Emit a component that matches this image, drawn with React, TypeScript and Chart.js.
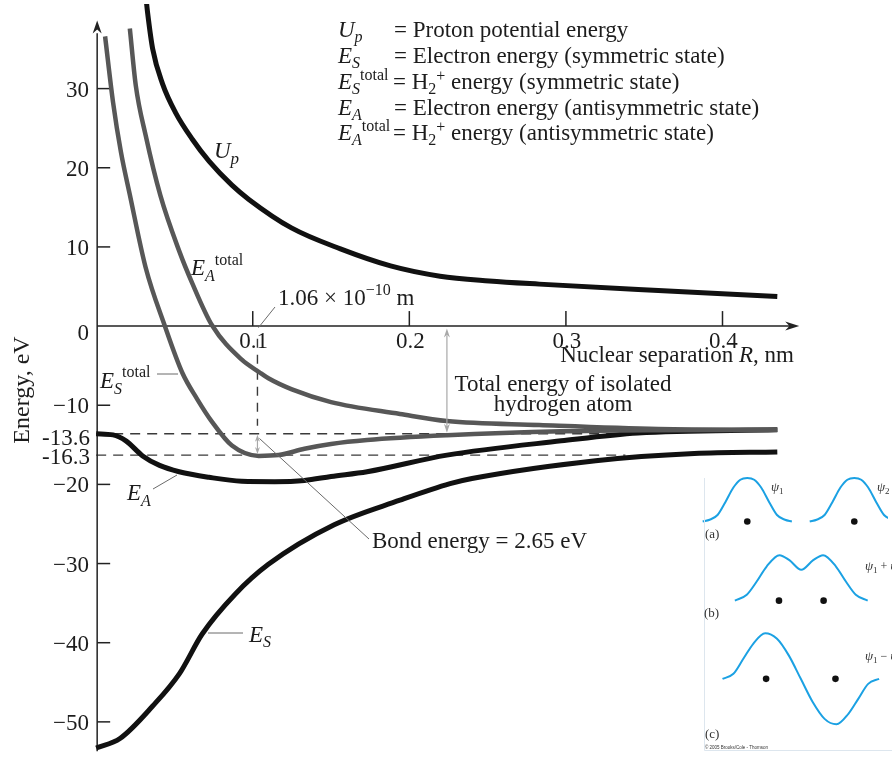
import React, { useEffect, useRef } from "react";
import { Chart, registerables } from "chart.js";

Chart.register(...registerables);

// ---------- data (R in nm, energy in eV) ----------
const upR = [0.0318, 0.0329, 0.0361, 0.0424, 0.0506, 0.0614, 0.0722, 0.0867, 0.0975, 0.1247, 0.156, 0.188, 0.2196, 0.251, 0.283, 0.359, 0.435];
const upE = [41.5, 39.5, 35.0, 30.6, 27.0, 23.6, 20.8, 17.8, 16.0, 12.4, 9.75, 7.6, 6.3, 5.7, 5.3, 4.5, 3.75];

const eaTotR = [0.0215, 0.0253, 0.0316, 0.041, 0.053, 0.0614, 0.074, 0.093, 0.104, 0.11, 0.125, 0.15, 0.194, 0.224, 0.283, 0.359, 0.435];
const eaTotE = [37.6, 30.4, 24.1, 16.5, 9.5, 5.4, 0.1, -4.25, -5.8, -6.6, -8.0, -9.6, -11.1, -12.0, -12.5, -13.0, -13.1];

const esTotR = [0.0057, 0.0108, 0.0158, 0.0215, 0.0316, 0.0437, 0.055, 0.0646, 0.074, 0.0867, 0.1038, 0.1165, 0.133, 0.15, 0.173, 0.224, 0.297, 0.359, 0.435];
const esTotE = [36.6, 28.25, 22.0, 16.6, 7.4, 0.1, -5.9, -9.25, -12.1, -15.1, -16.4, -16.3, -15.5, -14.9, -14.4, -13.8, -13.3, -13.15, -13.1];

const eaR = [0, 0.0108, 0.019, 0.0297, 0.0405, 0.053, 0.072, 0.093, 0.114, 0.133, 0.15, 0.173, 0.224, 0.297, 0.346, 0.435];
const eaE = [-13.6, -13.75, -14.5, -16.4, -17.6, -18.4, -19.1, -19.6, -19.65, -19.5, -19.0, -18.4, -16.3, -14.5, -13.5, -13.1];

const esR = [0, 0.0152, 0.0361, 0.0532, 0.0677, 0.0886, 0.11, 0.152, 0.194, 0.226, 0.24, 0.319, 0.382, 0.435];
const esE = [-53.3, -52.1, -48.0, -43.9, -38.9, -33.9, -30.1, -25.1, -22.0, -19.9, -19.25, -17.0, -16.1, -15.9];

const yTickValues = [30, 20, 10, 0, -10, -20, -30, -40, -50];
const yTickLabels = ["30", "20", "10", "0", "\u221210", "\u221220", "\u221230", "\u221240", "\u221250"];
const ySpecialValues = [-13.6, -16.3];
const ySpecialLabels = ["-13.6", "-16.3"];
const xTickValues = [0.1, 0.2, 0.3, 0.4];
const xTickLabels = ["0.1", "0.2", "0.3", "0.4"];

const isolatedAtomE = -13.6;
const bondMinE = -16.3;
const bondR = 0.103;
const arrowR = 0.224;

// inset wavefunctions (relative position, amplitude fraction)
const psiSingleX = [-45, -38, -30, -22, -14, -7, 0, 7, 14, 22, 30, 38, 45];
const psiSingleV = [0, 0.04, 0.15, 0.45, 0.78, 0.96, 1, 0.96, 0.78, 0.45, 0.15, 0.04, 0];
const psiSumX = [-67, -55, -45, -35, -22, -12, 0, 12, 22, 35, 45, 55, 67];
const psiSumV = [0, 0.13, 0.42, 0.75, 1, 0.89, 0.68, 0.89, 1, 0.75, 0.42, 0.13, 0];
const psiDiffX = [-79, -68, -58, -48, -36, -24, -12, 0, 12, 24, 36, 48, 58, 68, 79];
const psiDiffV = [0, 0.11, 0.44, 0.77, 1, 0.88, 0.51, 0, -0.51, -0.88, -1, -0.77, -0.44, -0.11, 0];

// ---------- layout ----------
const W = 892;
const H = 761;
const X0PX = 93;
const PX_PER_NM = 1580;
const Y0PX = 325.5;
const PX_PER_EV = 8;

const SERIF = '"Liberation Serif", "Times New Roman", serif';
const INK = "#1c1c1c";
const BLUE = "#1ba1e3";

const pts = (xs: number[], ys: number[]) => xs.map((x, i) => ({ x, y: ys[i] }));
const shape = (xs: number[], vs: number[], cx: number, base: number, amp: number) =>
  xs.map((x, i) => ({ x: cx + x, y: base - amp * vs[i] }));

type Part = { t: string; f: string; dy?: number };
function richWidth(ctx: CanvasRenderingContext2D, parts: Part[]) {
  let w = 0;
  for (const p of parts) {
    ctx.font = p.f;
    w += ctx.measureText(p.t).width;
  }
  return w;
}
function rich(ctx: CanvasRenderingContext2D, x: number, y: number, parts: Part[], align = "left") {
  ctx.save();
  ctx.textAlign = "left";
  let cx = x;
  if (align === "center") cx = x - richWidth(ctx, parts) / 2;
  for (const p of parts) {
    ctx.font = p.f;
    ctx.fillText(p.t, cx, y + (p.dy || 0));
    cx += ctx.measureText(p.t).width;
  }
  ctx.restore();
  return cx;
}
function line(ctx: CanvasRenderingContext2D, x1: number, y1: number, x2: number, y2: number) {
  ctx.beginPath();
  ctx.moveTo(x1, y1);
  ctx.lineTo(x2, y2);
  ctx.stroke();
}
function arrowHead(ctx: CanvasRenderingContext2D, x: number, y: number, dir: number, len: number, half: number, horiz = false) {
  ctx.beginPath();
  if (horiz) {
    ctx.moveTo(x, y);
    ctx.lineTo(x - dir * len, y - half);
    ctx.lineTo(x - dir * len * 0.7, y);
    ctx.lineTo(x - dir * len, y + half);
  } else {
    ctx.moveTo(x, y);
    ctx.lineTo(x - half, y - dir * len);
    ctx.lineTo(x, y - dir * len * 0.7);
    ctx.lineTo(x + half, y - dir * len);
  }
  ctx.closePath();
  ctx.fill();
}

const FS = 23;
const R_MAIN = `${FS}px ${SERIF}`;
const I_MAIN = `italic ${FS}px ${SERIF}`;
const I_SUB = `italic 16px ${SERIF}`;
const R_SUP = `16px ${SERIF}`;

const decor = {
  id: "decor",
  beforeDatasetsDraw(chart: any) {
    const ctx: CanvasRenderingContext2D = chart.ctx;
    const sx = chart.scales.x;
    const sy = chart.scales.y;
    const px = (v: number) => sx.getPixelForValue(v);
    const py = (v: number) => sy.getPixelForValue(v);
    ctx.save();
    // dashed reference lines
    ctx.strokeStyle = "#3a3a3a";
    ctx.lineWidth = 1.4;
    ctx.setLineDash([10, 7]);
    line(ctx, px(0), py(isolatedAtomE), px(0.33), py(isolatedAtomE));
    line(ctx, px(0), py(bondMinE), px(0.338), py(bondMinE));
    ctx.setLineDash([9, 7]);
    line(ctx, px(bondR), py(-1.6), px(bondR), py(-12.6));
    ctx.setLineDash([]);

    // axes
    ctx.strokeStyle = "#222";
    ctx.fillStyle = "#222";
    ctx.lineWidth = 1.5;
    const ax = px(0) + 1;
    const ay = py(0);
    line(ctx, ax, py(-53.7), ax, py(37.0));
    arrowHead(ctx, ax, py(38.6), -1, 13, 4.5);
    line(ctx, ax, ay, px(0.445), ay);
    arrowHead(ctx, px(0.449), ay, 1, 14, 4.5, true);

    // y ticks (pointing right) and labels
    ctx.textAlign = "right";
    ctx.textBaseline = "middle";
    ctx.font = R_MAIN;
    yTickValues.forEach((v, i) => {
      if (v !== 0) line(ctx, ax, py(v), ax + 13, py(v));
      ctx.fillStyle = INK;
      ctx.fillText(yTickLabels[i], 89, py(v) + (v === 0 ? 8 : 2));
    });
    ySpecialValues.forEach((v, i) => {
      ctx.fillText(ySpecialLabels[i], 90, py(v) + (i === 0 ? 5 : 3));
    });
    // x ticks (pointing up) and labels
    ctx.textAlign = "center";
    ctx.textBaseline = "alphabetic";
    xTickValues.forEach((v, i) => {
      line(ctx, px(v), ay, px(v), ay - 15);
      ctx.fillText(xTickLabels[i], px(v) + 1, 348);
    });
    ctx.restore();
  },
  afterDatasetsDraw(chart: any) {
    const ctx: CanvasRenderingContext2D = chart.ctx;
    const sx = chart.scales.x;
    const sy = chart.scales.y;
    const px = (v: number) => sx.getPixelForValue(v);
    const py = (v: number) => sy.getPixelForValue(v);
    ctx.save();
    ctx.fillStyle = INK;
    ctx.textAlign = "left";
    ctx.textBaseline = "alphabetic";

    // legend block
    const lx = 338;
    const eqx = 394;
    rich(ctx, lx, 37, [{ t: "U", f: I_MAIN }, { t: "p", f: I_SUB, dy: 5 }]);
    rich(ctx, eqx, 37, [{ t: "= Proton potential energy", f: R_MAIN }]);
    rich(ctx, lx, 63, [{ t: "E", f: I_MAIN }, { t: "S", f: I_SUB, dy: 5 }]);
    rich(ctx, eqx, 63, [{ t: "= Electron energy (symmetric state)", f: R_MAIN }]);
    rich(ctx, lx, 89, [{ t: "E", f: I_MAIN }, { t: "S", f: I_SUB, dy: 5 }, { t: "total", f: R_SUP, dy: -9 }]);
    rich(ctx, eqx - 1, 89, [{ t: "= H", f: R_MAIN }, { t: "2", f: R_SUP, dy: 5 }, { t: "+", f: R_SUP, dy: -8 }, { t: " energy (symmetric state)", f: R_MAIN }]);
    rich(ctx, lx, 115, [{ t: "E", f: I_MAIN }, { t: "A", f: I_SUB, dy: 5 }]);
    rich(ctx, eqx, 115, [{ t: "= Electron energy (antisymmetric state)", f: R_MAIN }]);
    rich(ctx, lx, 140, [{ t: "E", f: I_MAIN }, { t: "A", f: I_SUB, dy: 5 }, { t: "total", f: R_SUP, dy: -9 }]);
    rich(ctx, eqx - 1, 140, [{ t: "= H", f: R_MAIN }, { t: "2", f: R_SUP, dy: 5 }, { t: "+", f: R_SUP, dy: -8 }, { t: " energy (antisymmetric state)", f: R_MAIN }]);

    // curve labels
    rich(ctx, 214, 158, [{ t: "U", f: I_MAIN }, { t: "p", f: `italic 17px ${SERIF}`, dy: 6 }]);
    rich(ctx, 191, 275, [{ t: "E", f: I_MAIN }, { t: "A", f: I_SUB, dy: 6 }, { t: "total", f: R_SUP, dy: -10 }]);
    rich(ctx, 100, 388, [{ t: "E", f: I_MAIN }, { t: "S", f: I_SUB, dy: 6 }, { t: "total", f: R_SUP, dy: -11 }]);
    rich(ctx, 127, 500, [{ t: "E", f: I_MAIN }, { t: "A", f: I_SUB, dy: 6 }]);
    rich(ctx, 249, 642, [{ t: "E", f: I_MAIN }, { t: "S", f: I_SUB, dy: 5 }]);
    rich(ctx, 278, 305, [{ t: "1.06 \u00d7 10", f: R_MAIN }, { t: "\u221210", f: R_SUP, dy: -10 }, { t: " m", f: R_MAIN }]);

    // axis titles
    rich(ctx, 677, 362, [{ t: "Nuclear separation ", f: R_MAIN }, { t: "R", f: I_MAIN }, { t: ", nm", f: R_MAIN }], "center");
    ctx.textAlign = "center";
    ctx.font = R_MAIN;
    ctx.fillText("Total energy of isolated", 563, 391);
    ctx.fillText("hydrogen atom", 563, 411);
    ctx.save();
    ctx.translate(29, 390);
    ctx.rotate(-Math.PI / 2);
    ctx.font = `24px ${SERIF}`;
    ctx.fillText("Energy, eV", 0, 0);
    ctx.restore();
    ctx.textAlign = "left";
    ctx.font = R_MAIN;
    ctx.fillText("Bond energy = 2.65 eV", 372, 548);

    // leader lines
    ctx.strokeStyle = "#6a6a6a";
    ctx.lineWidth = 1;
    line(ctx, px(bondR) + 1, py(-0.2), 275, 307);
    line(ctx, 157, 374, 178, 374);
    line(ctx, 153, 489, 177, 475);
    line(ctx, 208, 633, 243, 633);
    line(ctx, px(bondR) + 2, py(-14.2), 369, 539);

    // energy arrows
    ctx.strokeStyle = "#a8a8a8";
    ctx.fillStyle = "#a8a8a8";
    ctx.lineWidth = 1.2;
    line(ctx, px(arrowR), py(-0.4) + 6, px(arrowR), py(isolatedAtomE) - 6);
    arrowHead(ctx, px(arrowR), py(-0.3), -1, 9, 3);
    arrowHead(ctx, px(arrowR), py(isolatedAtomE) - 1, 1, 9, 3);
    line(ctx, px(bondR), py(isolatedAtomE) + 5, px(bondR), py(bondMinE) - 5);
    arrowHead(ctx, px(bondR), py(isolatedAtomE) + 1, -1, 7, 2.5);
    arrowHead(ctx, px(bondR), py(bondMinE) - 1, 1, 7, 2.5);

    // inset frame & labels
    ctx.strokeStyle = "#dde6ee";
    ctx.lineWidth = 1;
    line(ctx, 704.5, 478, 704.5, 750.5);
    line(ctx, 704.5, 750.5, 892, 750.5);
    ctx.fillStyle = "#333";
    const P13 = `italic 13px ${SERIF}`;
    const S9 = `9px ${SERIF}`;
    rich(ctx, 771, 491, [{ t: "\u03c8", f: P13 }, { t: "1", f: S9, dy: 3 }]);
    rich(ctx, 877, 491, [{ t: "\u03c8", f: P13 }, { t: "2", f: S9, dy: 3 }]);
    rich(ctx, 865, 570, [{ t: "\u03c8", f: P13 }, { t: "1", f: S9, dy: 3 }, { t: " + ", f: `12px ${SERIF}` }, { t: "\u03c8", f: P13 }, { t: "2", f: S9, dy: 3 }]);
    rich(ctx, 865, 660, [{ t: "\u03c8", f: P13 }, { t: "1", f: S9, dy: 3 }, { t: " \u2212 ", f: `12px ${SERIF}` }, { t: "\u03c8", f: P13 }, { t: "2", f: S9, dy: 3 }]);
    ctx.font = `13px ${SERIF}`;
    ctx.fillText("(a)", 705, 538);
    ctx.fillText("(b)", 704, 617);
    ctx.fillText("(c)", 705, 738);
    ctx.font = `4.5px "Liberation Sans"`;
    ctx.fillText("\u00a9 2005 Brooks/Cole - Thomson", 705, 749);
    ctx.restore();
  },
};

export default function App() {
  const ref = useRef<HTMLCanvasElement>(null);
  useEffect(() => {
    if (!ref.current) return;
    const curve = (label: string, data: any[], color: string, width: number, order: number) => ({
      type: "line" as const,
      label,
      data,
      borderColor: color,
      borderWidth: width,
      pointRadius: 0,
      fill: false,
      cubicInterpolationMode: "monotone" as const,
      order,
      xAxisID: "x",
      yAxisID: "y",
    });
    const wave = (data: any[]) => ({
      type: "line" as const,
      data,
      borderColor: BLUE,
      borderWidth: 2,
      pointRadius: 0,
      fill: false,
      cubicInterpolationMode: "monotone" as const,
      xAxisID: "ix",
      yAxisID: "iy",
      order: 0,
    });
    const chart = new Chart(ref.current, {
      type: "line",
      data: {
        datasets: [
          curve("U_p", pts(upR, upE), "#111111", 5, 5),
          curve("E_S", pts(esR, esE), "#111111", 5, 4),
          curve("E_A", pts(eaR, eaE), "#111111", 5, 3),
          curve("E_A total", pts(eaTotR, eaTotE), "#575757", 4.5, 2),
          curve("E_S total", pts(esTotR, esTotE), "#575757", 4.5, 1),
          wave(shape(psiSingleX, psiSingleV, 750, 523, 44)),
          wave(shape(psiSingleX, psiSingleV, 858, 523, 44)),
          wave(shape(psiSumX, psiSumV, 804.5, 603, 46)),
          wave(shape(psiDiffX, psiDiffV, 804, 682, 46)),
          {
            type: "scatter" as const,
            data: [
              { x: 750, y: 523 }, { x: 858, y: 523 },
              { x: 782, y: 603 }, { x: 827, y: 603 },
              { x: 769, y: 682 }, { x: 839, y: 682 },
            ],
            pointRadius: 3.3,
            pointBackgroundColor: "#111",
            pointBorderWidth: 0,
            xAxisID: "ix",
            yAxisID: "iy",
            order: 0,
          } as any,
        ],
      },
      options: {
        animation: false,
        responsive: false,
        devicePixelRatio: 1,
        layout: { padding: 0 },
        plugins: { legend: { display: false }, tooltip: { enabled: false } },
        scales: {
          x: { type: "linear", display: false, min: -X0PX / PX_PER_NM, max: (W - X0PX) / PX_PER_NM },
          y: { type: "linear", display: false, min: (Y0PX - H) / PX_PER_EV, max: Y0PX / PX_PER_EV },
          ix: { type: "linear", display: false, min: 0, max: W },
          iy: { type: "linear", display: false, min: 0, max: H, reverse: true },
        },
      } as any,
      plugins: [decor],
    });
    return () => chart.destroy();
  }, []);
  return (
    <div style={{ position: "absolute", left: 0, top: 0, width: W, height: H, background: "#fff" }}>
      <canvas ref={ref} width={W} height={H} style={{ display: "block", width: W, height: H }} />
    </div>
  );
}
